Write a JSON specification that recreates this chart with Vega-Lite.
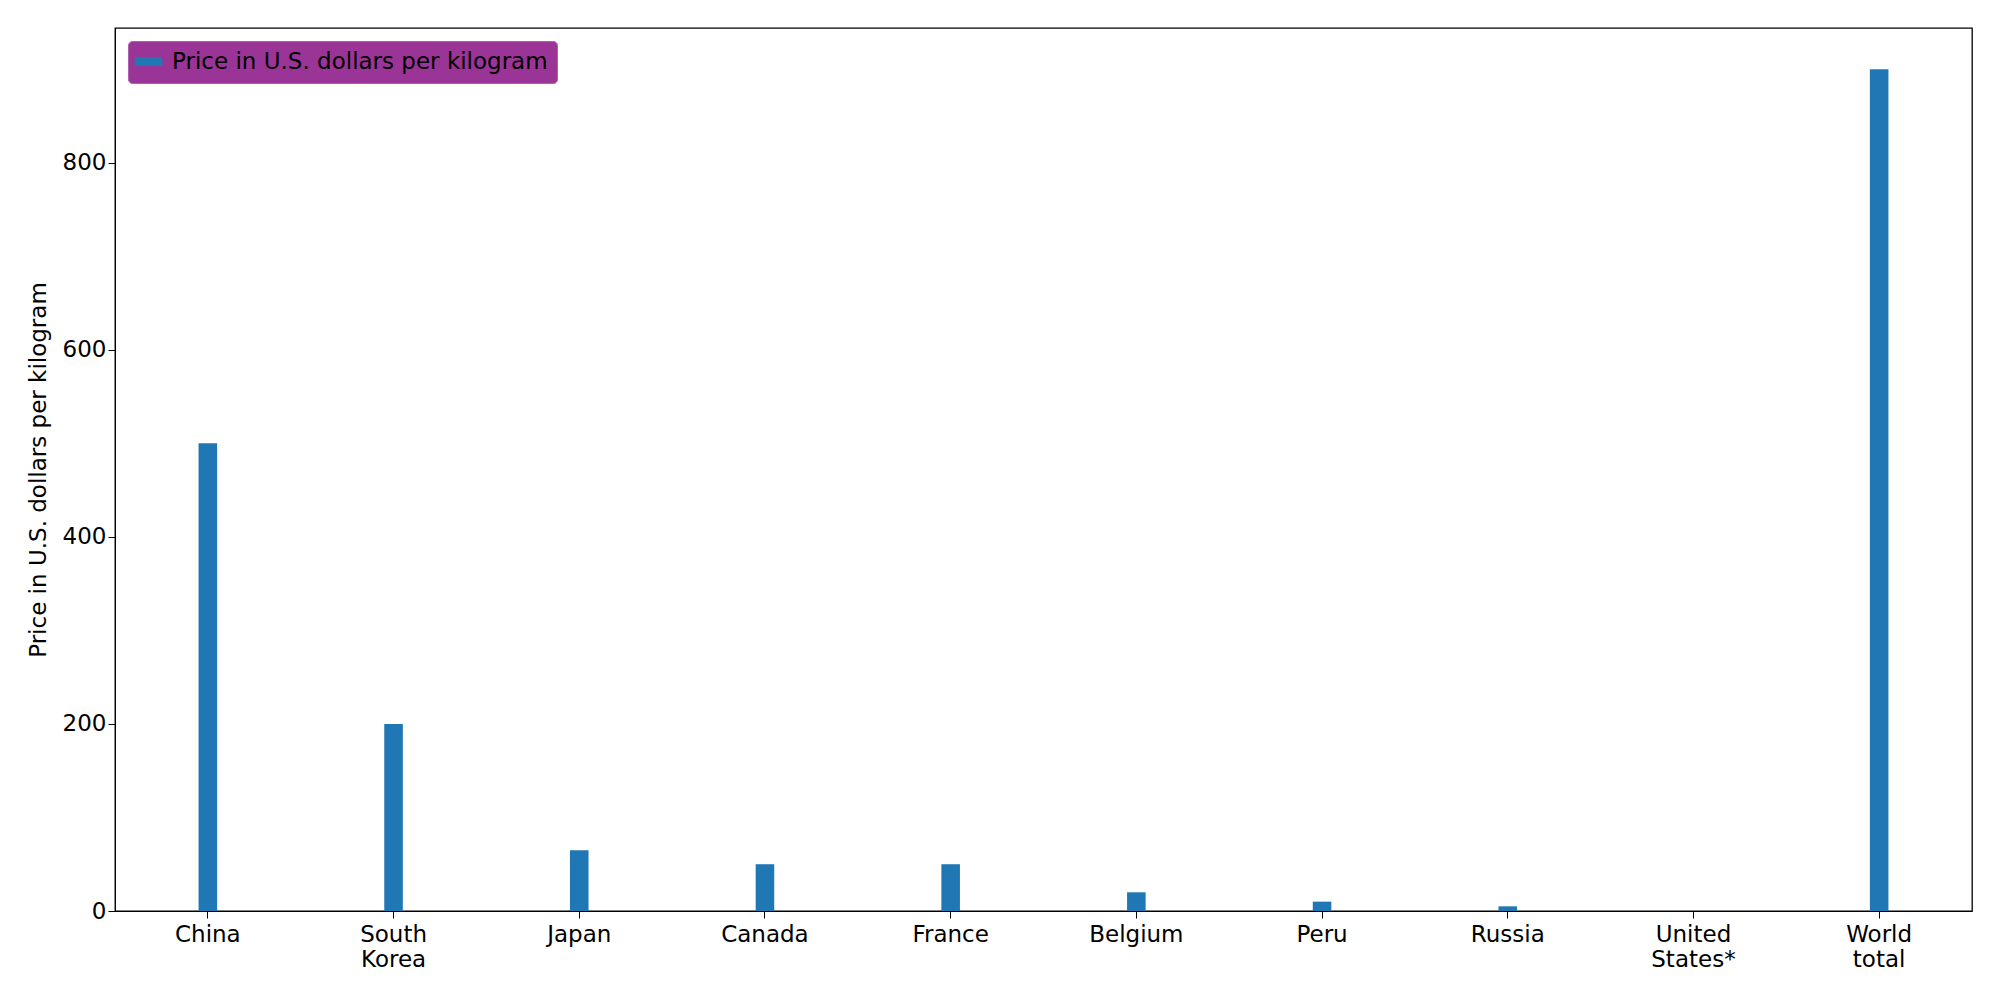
{
"$schema":"https://vega.github.io/schema/vega-lite/v6.json",
"width":1857,"height":883,
"autosize":{"type":"none"},
"padding":{"left":115,"top":28,"right":28,"bottom":89},
"config":{"font":"DejaVu Sans","view":{"stroke":"black","strokeWidth":1.3}},
"data":{"values":[
{"country":"China","price":500,"series":"Price in U.S. dollars per kilogram"},
{"country":"South Korea","price":200,"series":"Price in U.S. dollars per kilogram"},
{"country":"Japan","price":65,"series":"Price in U.S. dollars per kilogram"},
{"country":"Canada","price":50,"series":"Price in U.S. dollars per kilogram"},
{"country":"France","price":50,"series":"Price in U.S. dollars per kilogram"},
{"country":"Belgium","price":20,"series":"Price in U.S. dollars per kilogram"},
{"country":"Peru","price":10,"series":"Price in U.S. dollars per kilogram"},
{"country":"Russia","price":5,"series":"Price in U.S. dollars per kilogram"},
{"country":"United States*","price":0,"series":"Price in U.S. dollars per kilogram"},
{"country":"World total","price":900,"series":"Price in U.S. dollars per kilogram"}
]},
"mark":{"type":"bar"},
"encoding":{
"x":{"field":"country","type":"nominal","sort":null,"scale":{"paddingInner":0.9,"paddingOuter":0.45},
"axis":{"title":null,"labelAngle":0,"labelFontSize":23,"labelColor":"black","labelExpr":"split(datum.label,' ')","tickColor":"black","domainColor":"black","tickSize":7,"labelPadding":5}},
"y":{"field":"price","type":"quantitative","scale":{"domain":[0,944],"nice":false},
"axis":{"title":"Price in U.S. dollars per kilogram","titleFontSize":23,"titleFontWeight":"normal","titleColor":"black","labelFontSize":23,"labelColor":"black","values":[0,200,400,600,800],"grid":false,"tickColor":"black","domainColor":"black","tickSize":7,"titlePadding":12}},
"color":{"field":"series","type":"nominal","scale":{"range":["#1f77b4"]},
"legend":{"title":null,"orient":"top-left","offset":13,"fillColor":"#9b3497","strokeColor":"#b060b0","cornerRadius":4,"padding":9,"labelFontSize":23,"labelLimit":0,"labelColor":"black","labelOffset":12,"symbolType":"M-1.6,-0.5H1.6V0.5H-1.6Z","symbolSize":300,"symbolStrokeWidth":0,"symbolOpacity":1}}
}
}
